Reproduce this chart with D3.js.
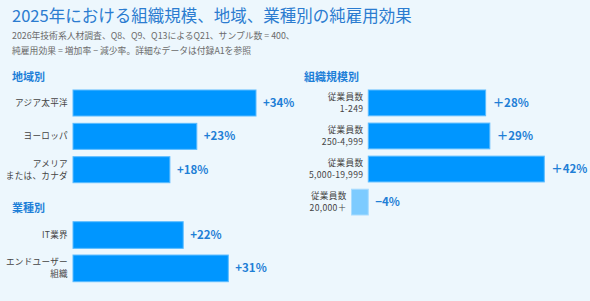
<!DOCTYPE html>
<html><head><meta charset="utf-8">
<script src="https://cdn.jsdelivr.net/npm/d3@7"></script>
<style>
html,body{margin:0;padding:0;background:#edf7fd;}
svg{display:block;font-family:"Noto Sans CJK JP","Noto Sans",sans-serif;}
</style></head><body>
<svg id="c" width="590" height="301"></svg>
<script>
const title = "2025年における組織規模、地域、業種別の純雇用効果";
const subtitle = ["2026年技術系人材調査、Q8、Q9、Q13によるQ21、サンプル数 = 400、",
                  "純雇用効果 = 増加率 − 減少率。詳細なデータは付録A1を参照"];

const regionTitle = "地域別";
const regionCats = [["アジア太平洋"], ["ヨーロッパ"], ["アメリア", "または、カナダ"]];
const regionVals = [34, 23, 18];
const regionLabels = ["+34%", "+23%", "+18%"];

const industryTitle = "業種別";
const industryCats = [["IT業界"], ["エンドユーザー", "組織"]];
const industryVals = [22, 31];
const industryLabels = ["+22%", "+31%"];

const sizeTitle = "組織規模別";
const sizeCats = [["従業員数", "1-249"], ["従業員数", "250-4,999"], ["従業員数", "5,000-19,999"], ["従業員数", "20,000＋"]];
const sizeVals = [28, 29, 42, -4];
const sizeLabels = ["＋28%", "＋29%", "＋42%", "−4%"];

const svg = d3.select("#c");
svg.append("rect").attr("width",590).attr("height",301).attr("fill","#edf7fd");

svg.append("text").attr("x",12).attr("y",22).attr("font-size",16.5).attr("fill","#2b7cd0").text(title);
subtitle.forEach((s,i)=>svg.append("text").attr("x",12).attr("y",39+i*15)
  .attr("font-size",8.8).attr("fill","#6b6b6b").text(s));

function panel(opts){
  const {hx, hy, head, cats, vals, labels, x, y} = opts;
  svg.append("text").attr("x",hx).attr("y",hy).attr("font-size",11).attr("font-weight","bold")
    .attr("fill","#1d7fd8").text(head);
  const g = svg.append("g");
  const idx = d3.range(vals.length);
  g.selectAll("rect.bar").data(idx).join("rect").attr("class","bar")
    .attr("x", i=>x(Math.min(0, vals[i])))
    .attr("y", i=>y(i))
    .attr("width", i=>Math.abs(x(vals[i])-x(0)))
    .attr("height", y.bandwidth())
    .attr("fill", i=>vals[i] < 0 ? "#7dcbff" : "#0096ff")
    .attr("stroke", i=>vals[i] < 0 ? "#a9dcff" : "#5cbcff")
    .attr("stroke-width",1);
  g.selectAll("text.val").data(idx).join("text").attr("class","val")
    .attr("x", i=>Math.max(x(vals[i]), x(0)) + 7)
    .attr("y", i=>y(i)+y.bandwidth()/2)
    .attr("dy","0.35em")
    .attr("font-size",11.5).attr("font-weight","bold").attr("fill","#1f7fd6")
    .text(i=>labels[i]);
  idx.forEach(i=>{
    const lines = cats[i];
    const cy = y(i)+y.bandwidth()/2;
    const lx = Math.min(x(vals[i]), x(0)) - 5;
    lines.forEach((ln,j)=>{
      g.append("text").attr("x",lx)
        .attr("y", cy + (j-(lines.length-1)/2)*11.8)
        .attr("dy","0.35em").attr("text-anchor","end")
        .attr("font-size",8.6).attr("letter-spacing",0.3).attr("fill","#444").text(ln);
    });
  });
}

panel({hx:12, hy:81, head:regionTitle, cats:regionCats, vals:regionVals, labels:regionLabels,
  x:d3.scaleLinear().domain([0,34]).range([73,256]),
  y:d3.scaleBand().domain(d3.range(3)).range([90,182.7]).paddingInner(0.22)});

panel({hx:12, hy:212, head:industryTitle, cats:industryCats, vals:industryVals, labels:industryLabels,
  x:d3.scaleLinear().domain([0,31]).range([73,228.3]),
  y:d3.scaleBand().domain(d3.range(2)).range([221.7,281.7]).paddingInner(0.2)});

panel({hx:304, hy:81, head:sizeTitle, cats:sizeCats, vals:sizeVals, labels:sizeLabels,
  x:d3.scaleLinear().domain([0,42]).range([368.3,544.3]),
  y:d3.scaleBand().domain(d3.range(4)).range([90,215]).paddingInner(0.22)});
</script>
</body></html>
